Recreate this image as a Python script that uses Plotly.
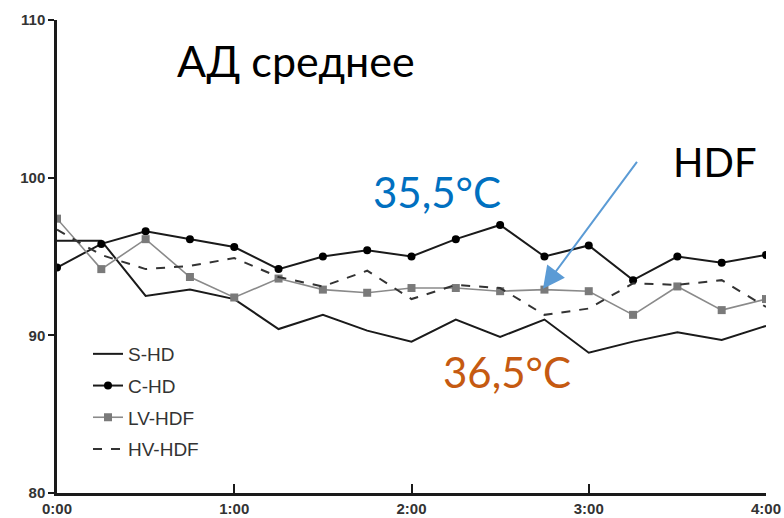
import plotly.graph_objects as go

# ---- data ----
minutes = [0, 15, 30, 45, 60, 75, 90, 105, 120, 135, 150, 165, 180, 195, 210, 225, 240]
s_hd = [96.0, 96.0, 92.5, 92.9, 92.3, 90.4, 91.3, 90.3, 89.6, 91.0, 89.9, 91.0, 88.9, 89.6, 90.2, 89.7, 90.6]
c_hd = [94.3, 95.8, 96.6, 96.1, 95.6, 94.2, 95.0, 95.4, 95.0, 96.1, 97.0, 95.0, 95.7, 93.5, 95.0, 94.6, 95.1]
lv_hdf = [97.4, 94.2, 96.1, 93.7, 92.4, 93.6, 92.9, 92.7, 93.0, 93.0, 92.8, 92.9, 92.8, 91.3, 93.1, 91.6, 92.3]
hv_hdf = [96.7, 95.1, 94.2, 94.4, 94.9, 93.7, 93.1, 94.1, 92.3, 93.2, 93.0, 91.3, 91.7, 93.3, 93.2, 93.5, 91.8]

x_tickvals = [0, 60, 120, 180, 240]
x_ticktext = ["0:00", "1:00", "2:00", "3:00", "4:00"]
y_tickvals = [80, 90, 100, 110]

fig = go.Figure()
fig.add_trace(go.Scatter(x=minutes, y=s_hd, name="S-HD", mode="lines", legendgroup="a",
                         line=dict(color="#1a1a1a", width=2)))
fig.add_trace(go.Scatter(x=minutes, y=c_hd, name="C-HD", mode="lines+markers", legendgroup="b",
                         line=dict(color="#1a1a1a", width=2),
                         marker=dict(symbol="circle", size=8, color="#000000")))
fig.add_trace(go.Scatter(x=minutes, y=lv_hdf, name="LV-HDF", mode="lines+markers", legendgroup="c",
                         line=dict(color="#8a8a8a", width=1.6),
                         marker=dict(symbol="square", size=8, color="#7a7a7a")))
fig.add_trace(go.Scatter(x=minutes, y=hv_hdf, name="HV-HDF", mode="lines", legendgroup="d",
                         line=dict(color="#333333", width=2, dash="dash")))

txt_font = "Lato, Noto Sans, sans-serif"
fig.add_annotation(text="АД среднее", xref="paper", yref="paper", x=(175 - 57) / 709, y=(493 - 61) / 473,
                   xanchor="left", yanchor="middle", showarrow=False,
                   font=dict(family=txt_font, size=43, color="#000000"))
fig.add_annotation(text="35,5°C", xref="paper", yref="paper", x=(371 - 57) / 709, y=(493 - 192) / 473,
                   xanchor="left", yanchor="middle", showarrow=False,
                   font=dict(family=txt_font, size=42, color="#0070C0"))
fig.add_annotation(text="HDF", xref="paper", yref="paper", x=(671 - 57) / 709, y=(493 - 162) / 473,
                   xanchor="left", yanchor="middle", showarrow=False,
                   font=dict(family=txt_font, size=40, color="#000000"))
fig.add_annotation(text="36,5°C", xref="paper", yref="paper", x=(441 - 57) / 709, y=(493 - 372) / 473,
                   xanchor="left", yanchor="middle", showarrow=False,
                   font=dict(family=txt_font, size=42, color="#C55A11"))
fig.add_annotation(text="", x=164.5, y=92.95, ax=196.7, ay=101.1, axref="x", ayref="y",
                   xref="x", yref="y", showarrow=True, arrowhead=2, arrowsize=2.2,
                   arrowwidth=2, arrowcolor="#5B9BD5")

tick_font = dict(family="Liberation Sans, Arial, sans-serif", size=15, color="#333333", weight="bold")
fig.update_layout(
    width=784, height=518,
    margin=dict(l=57, r=18, t=20, b=25),
    paper_bgcolor="white", plot_bgcolor="white",
    showlegend=True,
    legend=dict(x=(88 - 57) / 709, y=(493 - 335) / 473, xanchor="left", yanchor="top",
                bgcolor="rgba(0,0,0,0)", font=dict(family="Liberation Sans, Arial, sans-serif",
                                                    size=19, color="#333333"),
                tracegroupgap=4, itemwidth=30),
    xaxis=dict(range=[0, 240], tickvals=x_tickvals, ticktext=x_ticktext, showgrid=False,
               zeroline=False, showline=True, linecolor="#1a1a1a", linewidth=2.5,
               ticks="inside", ticklen=9, tickwidth=2, tickcolor="#1a1a1a",
               tickfont=tick_font, automargin=False),
    yaxis=dict(range=[80, 110], tickvals=y_tickvals, showgrid=False, zeroline=False,
               showline=True, linecolor="#1a1a1a", linewidth=2.5,
               ticks="outside", ticklen=6, tickwidth=2, tickcolor="#1a1a1a",
               tickfont=tick_font, automargin=False),
)

fig.write_html("out.html")
